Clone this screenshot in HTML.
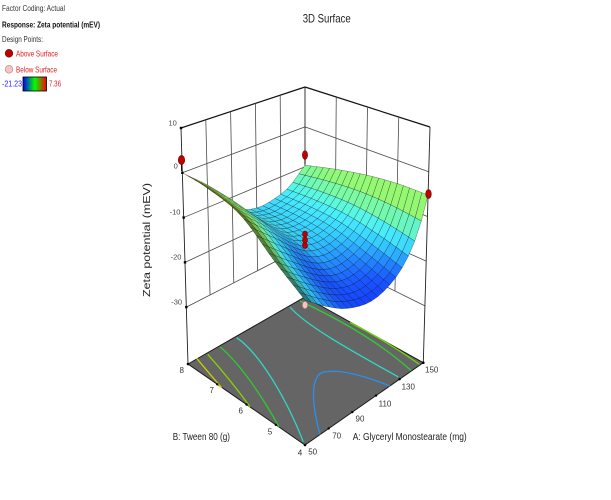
<!DOCTYPE html>
<html><head><meta charset="utf-8">
<style>
html,body{margin:0;padding:0;background:#fff;}
svg{display:block;font-family:"Liberation Sans",Arial,sans-serif;}
</style></head><body>
<svg id="c" width="611" height="500" viewBox="0 0 611 500" xmlns="http://www.w3.org/2000/svg">
<defs>
<linearGradient id="cb" x1="0" x2="1" y1="0" y2="0">
<stop offset="0" stop-color="#0000ff"/><stop offset="0.5" stop-color="#00ff00"/><stop offset="1" stop-color="#ff0000"/>
</linearGradient>
</defs>
<rect x="0" y="0" width="611" height="500" fill="#fff"/>
<!-- legend -->
<text x="2" y="11" font-size="8.5" fill="#333" textLength="63" lengthAdjust="spacingAndGlyphs">Factor Coding: Actual</text>
<text x="2" y="27.3" font-size="8.5" font-weight="bold" fill="#111" textLength="98" lengthAdjust="spacingAndGlyphs">Response: Zeta potential (mEV)</text>
<text x="2" y="42" font-size="8.5" fill="#333" textLength="41" lengthAdjust="spacingAndGlyphs">Design Points:</text>
<ellipse cx="9" cy="53.3" rx="3.8" ry="3.9" fill="#c00000" stroke="#700000" stroke-width="0.6"/>
<text x="16" y="56.3" font-size="8.5" fill="#e02020" textLength="42" lengthAdjust="spacingAndGlyphs">Above Surface</text>
<ellipse cx="9" cy="69.3" rx="3.8" ry="3.9" fill="#f6c4c4" stroke="#b08080" stroke-width="0.6"/>
<text x="16" y="72.3" font-size="8.5" fill="#e02020" textLength="41" lengthAdjust="spacingAndGlyphs">Below Surface</text>
<text x="2" y="86.5" font-size="8.5" fill="#2020ff" textLength="20" lengthAdjust="spacingAndGlyphs">-21.23</text>
<rect x="23" y="77" width="23.5" height="14" fill="url(#cb)" stroke="#000" stroke-width="0.8"/>
<text x="49" y="86.5" font-size="8.5" fill="#e02020" textLength="12" lengthAdjust="spacingAndGlyphs">7.36</text>

<!-- title -->
<text x="302.7" y="22.3" font-size="12" fill="#222" textLength="48" lengthAdjust="spacingAndGlyphs">3D Surface</text>

<g id="walls"></g>

<!-- z tick labels -->
<g font-size="7.5" fill="#444" text-anchor="middle">
<text x="172.7" y="125.7">10</text>
<text x="175.7" y="168.7">0</text>
<text x="175" y="214.4">-10</text>
<text x="176" y="259.4">-20</text>
<text x="176.7" y="304.4">-30</text>
</g>
<text transform="translate(150,240) rotate(-90)" text-anchor="middle" font-size="10" fill="#222" textLength="114" lengthAdjust="spacingAndGlyphs">Zeta potential (mEV)</text>

<!-- floor -->
<g id="floor">
<polygon points="188,364 305,297 423.3,362.7 305,445" fill="#656565" stroke="#1a1a1a" stroke-width="1"/>
<g fill="none" stroke-width="1.3">
<path d="M196.7,358.3 Q208,372 221.7,387.7" stroke="#cccc00"/>
<path d="M207.7,354.3 Q229,378 250,406.7" stroke="#88d200"/>
<path d="M220,346.7 Q247.1,369.9 279,426.7" stroke="#30c830"/>
<path d="M236.7,337.7 C258,352 285,395 303.3,441.7" stroke="#30d8c4"/>
<path d="M290,307 C305,325 350,350 398.3,377" stroke="#30d8c4"/>
<path d="M300,301 C330,315 375,338 411,370.5" stroke="#30cc38"/>
<path d="M350,322.5 Q385,340 419.5,364.5" stroke="#6cd800"/>
<path d="M320,434.5 C312,405 310,378 322,372.5 C338,368 365,376 390,386" stroke="#2a90f0"/>
</g>
<g fill="#000">
<circle cx="188" cy="364" r="1.3"/><circle cx="305" cy="445" r="1.3"/><circle cx="423.3" cy="362.7" r="1.3"/>
<circle cx="217.2" cy="384.3" r="1.2"/><circle cx="246.5" cy="404.5" r="1.2"/><circle cx="275.8" cy="424.8" r="1.2"/>
<circle cx="328.7" cy="428.5" r="1.2"/><circle cx="352.3" cy="412.1" r="1.2"/><circle cx="376" cy="395.6" r="1.2"/><circle cx="399.6" cy="379.2" r="1.2"/>
</g>
<g font-size="8" fill="#333" text-anchor="middle">
<text x="181.7" y="373">8</text>
<text x="211.7" y="393">7</text>
<text x="240.7" y="413.7">6</text>
<text x="270" y="434.7">5</text>
<text x="300" y="455.7">4</text>
<text x="312.7" y="454.7">50</text>
<text x="336.7" y="438.7">70</text>
<text x="360" y="421.3">90</text>
<text x="385" y="406.3">110</text>
<text x="408.3" y="389.7">130</text>
<text x="431.7" y="372.3">150</text>
</g>
<text x="172.7" y="440" font-size="10" fill="#222" textLength="57.3" lengthAdjust="spacingAndGlyphs">B: Tween 80 (g)</text>
<text x="352.7" y="440" font-size="10" fill="#222" textLength="114" lengthAdjust="spacingAndGlyphs">A: Glyceryl Monostearate (mg)</text>
</g>

<g id="surf"></g>

<g id="pts">
<line x1="181.5" y1="160" x2="181.5" y2="171" stroke="#000" stroke-width="0.9"/>
<ellipse cx="181.5" cy="160" rx="3.2" ry="4.6" fill="#c00000" stroke="#6a0000" stroke-width="0.6"/>
<line x1="305" y1="155" x2="305" y2="164" stroke="#000" stroke-width="0.9"/>
<ellipse cx="305" cy="155" rx="2.6" ry="4.3" fill="#c00000" stroke="#6a0000" stroke-width="0.6"/>
<ellipse cx="428.5" cy="194" rx="2.8" ry="4.5" fill="#c00000" stroke="#6a0000" stroke-width="0.6"/>
<ellipse cx="305" cy="245.5" rx="2.5" ry="3" fill="#c00000" stroke="#6a0000" stroke-width="0.6"/>
<ellipse cx="305" cy="240" rx="2.5" ry="3" fill="#c00000" stroke="#6a0000" stroke-width="0.6"/>
<ellipse cx="305" cy="234" rx="2.5" ry="3" fill="#c00000" stroke="#6a0000" stroke-width="0.6"/>
<ellipse cx="305" cy="305" rx="2.6" ry="3.6" fill="#f6c4c4" stroke="#b08080" stroke-width="0.6"/>
</g>
</svg>
<script>
(function(){
var NS="http://www.w3.org/2000/svg";
var Fb=[305,445],Rb=[423.3,362.7],Lb=[188,364],Bb=[305,297];
var Ft=[305,180],Rt=[430,127],Lt=[181,128],Bt=[305,87];
var ZF=-42.7, ZT=10;
function bil(P0,P1,P2,P3,u,v){return [P0[0]*(1-u)*(1-v)+P1[0]*u*(1-v)+P2[0]*(1-u)*v+P3[0]*u*v, P0[1]*(1-u)*(1-v)+P1[1]*u*(1-v)+P2[1]*(1-u)*v+P3[1]*u*v];}
function proj(u,v,z){var w=(z-ZF)/(ZT-ZF);var b=bil(Fb,Rb,Lb,Bb,u,v),t=bil(Ft,Rt,Lt,Bt,u,v);return [b[0]+w*(t[0]-b[0]),b[1]+w*(t[1]-b[1])];}
function el(tag,attrs,parent){var e=document.createElementNS(NS,tag);for(var k in attrs)e.setAttribute(k,attrs[k]);parent.appendChild(e);return e;}
function line(p,q,g,stroke,w){el('line',{x1:p[0].toFixed(2),y1:p[1].toFixed(2),x2:q[0].toFixed(2),y2:q[1].toFixed(2),stroke:stroke,'stroke-width':w},g);}
var walls=document.getElementById('walls');
var zs=[10,0,-10,-20,-30];
zs.forEach(function(z,k){var c=k==0?'#111':'#4a4a4a';var w=k==0?1.2:0.8;line(proj(0,1,z),proj(1,1,z),walls,c,w);line(proj(1,1,z),proj(1,0,z),walls,c,w);});
[.2,.4,.6,.8].forEach(function(u){line(proj(u,1,10),proj(u,1,-30),walls,'#4a4a4a',0.8);});
[.25,.5,.75].forEach(function(v){line(proj(1,v,10),proj(1,v,-30),walls,'#4a4a4a',0.8);});
[[0,1],[1,1],[1,0]].forEach(function(c){line(proj(c[0],c[1],10),proj(c[0],c[1],ZF),walls,'#222',0.9);});
zs.forEach(function(z){var p=proj(0,1,z);el('rect',{x:(p[0]-1.2).toFixed(2),y:(p[1]-1.2).toFixed(2),width:2.4,height:2.4,fill:'#000'},walls);});

var A=[[0,-13.9],[.18,-17.6],[.35,-20.4],[.55,-21.8],[.72,-20.3],[.84,-17],[.93,-12],[1,-5.2]];
var B=[[0,0],[.23,-5.7],[.45,-13.1],[.6,-15],[.74,-14.7],[.87,-13.3],[1,-9.6]];
var L=[[0,-13.9],[.25,-9.3],[.53,-3.2],[.8,-0.8],[1,0]];
var R=[[0,-5.2],[.25,-5.3],[.5,-6.1],[.75,-7.6],[1,-9.6]];
var z00=-13.9,z10=-5.2,z01=0,z11=-9.6;
function herm(s,t){
 var n=s.length;
 if(t<=s[0][0])return s[0][1];
 if(t>=s[n-1][0])return s[n-1][1];
 var i=0;while(t>s[i+1][0])i++;
 function m(k){if(k==0)return (s[1][1]-s[0][1])/(s[1][0]-s[0][0]);if(k==n-1)return (s[n-1][1]-s[n-2][1])/(s[n-1][0]-s[n-2][0]);return (s[k+1][1]-s[k-1][1])/(s[k+1][0]-s[k-1][0]);}
 var x0=s[i][0],x1=s[i+1][0],y0=s[i][1],y1=s[i+1][1],h=x1-x0;
 var m0=m(i)*h,m1=m(i+1)*h,q=(t-x0)/h,q2=q*q,q3=q2*q;
 return (2*q3-3*q2+1)*y0+(q3-2*q2+q)*m0+(-2*q3+3*q2)*y1+(q3-q2)*m1;
}
function Z(u,v){
 var a=herm(A,u),b=herm(B,u),l=herm(L,v),r=herm(R,v);
 return (1-v)*a+v*b+(1-u)*l+u*r-((1-u)*(1-v)*z00+u*(1-v)*z10+(1-u)*v*z01+u*v*z11);
}
var CM=[[-22,[20,60,255]],[-20,[25,85,255]],[-18,[35,135,255]],[-16,[50,195,250]],[-14,[70,230,245]],[-12.5,[90,242,215]],[-11,[115,246,170]],[-9,[140,248,125]],[-6,[160,250,105]],[-3.5,[170,230,65]],[-1,[150,160,25]],[1,[140,130,15]],[7.36,[255,30,20]]];
function cmap(z){
 if(z<=CM[0][0])return CM[0][1].slice();if(z>=CM[CM.length-1][0])return CM[CM.length-1][1].slice();
 var i=0;while(z>CM[i+1][0])i++;
 var f=(z-CM[i][0])/(CM[i+1][0]-CM[i][0]);
 return [0,1,2].map(function(k){return CM[i][1][k]+f*(CM[i+1][1][k]-CM[i][1][k]);});
}
var N=20, S=2.1/52.7;
var V=[-0.484,-0.484,0.729];
var P=[],ZZ=[];
for(var i=0;i<=N;i++){P[i]=[];ZZ[i]=[];for(var j=0;j<=N;j++){var u=i/N,v=j/N;var z=Z(u,v);ZZ[i][j]=z;P[i][j]=proj(u,v,z);}}
var cells=[];
for(var i=0;i<N;i++)for(var j=0;j<N;j++)cells.push([i,j]);
cells.sort(function(a,b){return (b[0]+b[1])-(a[0]+a[1]);});
var g=document.getElementById('surf');
var h=1/N;
cells.forEach(function(c){
 var i=c[0],j=c[1];
 var z1=ZZ[i][j],z2=ZZ[i+1][j],z3=ZZ[i+1][j+1],z4=ZZ[i][j+1];
 var dzu=((z2+z3)-(z1+z4))/2*S, dzv=((z4+z3)-(z1+z2))/2*S;
 var n=[-h*dzu,-h*dzv,h*h];var nl=Math.sqrt(n[0]*n[0]+n[1]*n[1]+n[2]*n[2]);
 var ndl=(n[0]*V[0]+n[1]*V[1]+n[2]*V[2])/nl; if(ndl<0)ndl=-ndl*0.5;
 var uc=(i+0.5)/N, vc=(j+0.5)/N;
 var zc=(z1+z2+z3+z4)/4;
 var bu=(uc<0.5&&i>=2)?Math.sin(Math.PI*uc/0.5):0;
 zc-=5*bu*Math.sin(Math.PI*vc);
 var col=cmap(zc);
 var s=Math.min(1.03,0.86+0.2*ndl);
 if(i==0)s*=0.55; else if(i==1)s*=0.8;
 var rgb=col.map(function(x){return Math.max(0,Math.min(255,Math.round(x*s)));});
 var q=[P[i][j],P[i+1][j],P[i+1][j+1],P[i][j+1]];
 var area=Math.abs((q[2][0]-q[0][0])*(q[3][1]-q[1][1])-(q[3][0]-q[1][0])*(q[2][1]-q[0][1]))/2;
 var op=Math.max(0.2,Math.min(0.5,0.5*area/25));
 var pts=q.map(function(p){return p[0].toFixed(2)+','+p[1].toFixed(2);}).join(' ');
 el('polygon',{points:pts,fill:'rgb('+rgb.join(',')+')',stroke:'rgba(0,0,0,'+op.toFixed(2)+')','stroke-width':0.5,'stroke-linejoin':'round'},g);
});
})();
</script>
</body></html>
